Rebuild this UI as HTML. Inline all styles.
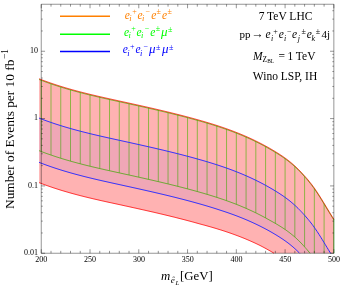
<!DOCTYPE html>
<html><head><meta charset="utf-8"><title>plot</title>
<style>html,body{margin:0;padding:0;background:#fff;}svg{display:block;will-change:transform;opacity:0.999;font-family:"Liberation Serif",serif;}</style></head>
<body><svg width="340" height="286" viewBox="0 0 340 286">
<rect width="340" height="286" fill="#fff"/>
<path d="M41.25 79.91 V151.51 M51.00 83.45 V155.05 M60.76 86.64 V158.24 M70.51 89.54 V161.14 M80.26 92.19 V163.79 M90.02 94.64 V166.24 M99.77 96.93 V168.53 M109.52 99.13 V170.73 M119.28 101.28 V172.88 M129.03 103.42 V175.02 M138.78 105.58 V177.18 M148.54 107.77 V179.37 M158.29 110.02 V181.62 M168.04 112.34 V183.94 M177.80 114.75 V186.35 M187.55 117.28 V188.88 M197.30 119.93 V191.53 M207.06 122.75 V194.35 M216.81 125.77 V197.37 M226.56 129.07 V200.67 M236.32 132.71 V204.31 M246.07 136.76 V208.36 M255.82 141.27 V212.87 M265.58 146.31 V217.91 M275.33 151.95 V223.37 M285.08 158.37 V229.47 M294.84 166.28 V237.05 M304.59 176.26 V246.86 M314.34 188.42 V253.25 M324.10 203.62 V253.25 M333.75 219.32 V253.25" stroke="#00ff00" stroke-width="0.62" fill="none"/>
<polyline points="39.10,150.68 40.10,151.07 41.10,151.45 42.10,151.83 43.10,152.21 44.10,152.58 45.10,152.95 46.10,153.32 47.10,153.68 48.10,154.03 49.10,154.39 50.10,154.74 51.10,155.08 52.10,155.42 53.10,155.76 54.10,156.10 55.10,156.43 56.10,156.76 57.10,157.08 58.10,157.40 59.10,157.72 60.10,158.04 61.10,158.35 62.10,158.66 63.10,158.96 64.10,159.27 65.10,159.57 66.10,159.86 67.10,160.16 68.10,160.45 69.10,160.74 70.10,161.02 71.10,161.31 72.10,161.59 73.10,161.86 74.10,162.14 75.10,162.41 76.10,162.68 77.10,162.95 78.10,163.22 79.10,163.48 80.10,163.74 81.10,164.00 82.10,164.26 83.10,164.52 84.10,164.77 85.10,165.02 86.10,165.27 87.10,165.52 88.10,165.77 89.10,166.01 90.10,166.26 91.10,166.50 92.10,166.74 93.10,166.98 94.10,167.21 95.10,167.45 96.10,167.68 97.10,167.92 98.10,168.15 99.10,168.38 100.10,168.61 101.10,168.84 102.10,169.07 103.10,169.29 104.10,169.52 105.10,169.75 106.10,169.97 107.10,170.19 108.10,170.42 109.10,170.64 110.10,170.86 111.10,171.08 112.10,171.30 113.10,171.52 114.10,171.74 115.10,171.96 116.10,172.18 117.10,172.40 118.10,172.62 119.10,172.84 120.10,173.06 121.10,173.28 122.10,173.50 123.10,173.72 124.10,173.94 125.10,174.16 126.10,174.38 127.10,174.59 128.10,174.81 129.10,175.03 130.10,175.25 131.10,175.47 132.10,175.70 133.10,175.92 134.10,176.14 135.10,176.36 136.10,176.58 137.10,176.80 138.10,177.02 139.10,177.25 140.10,177.47 141.10,177.69 142.10,177.92 143.10,178.14 144.10,178.37 145.10,178.59 146.10,178.82 147.10,179.04 148.10,179.27 149.10,179.50 150.10,179.72 151.10,179.95 152.10,180.18 153.10,180.41 154.10,180.64 155.10,180.87 156.10,181.11 157.10,181.34 158.10,181.57 159.10,181.81 160.10,182.04 161.10,182.28 162.10,182.51 163.10,182.75 164.10,182.99 165.10,183.23 166.10,183.47 167.10,183.71 168.10,183.95 169.10,184.19 170.10,184.44 171.10,184.68 172.10,184.93 173.10,185.18 174.10,185.42 175.10,185.67 176.10,185.92 177.10,186.18 178.10,186.43 179.10,186.68 180.10,186.94 181.10,187.19 182.10,187.45 183.10,187.71 184.10,187.97 185.10,188.23 186.10,188.49 187.10,188.76 188.10,189.02 189.10,189.29 190.10,189.56 191.10,189.83 192.10,190.10 193.10,190.37 194.10,190.65 195.10,190.92 196.10,191.20 197.10,191.48 198.10,191.76 199.10,192.04 200.10,192.32 201.10,192.61 202.10,192.89 203.10,193.18 204.10,193.47 205.10,193.77 206.10,194.06 207.10,194.36 208.10,194.66 209.10,194.96 210.10,195.26 211.10,195.57 212.10,195.88 213.10,196.19 214.10,196.51 215.10,196.82 216.10,197.14 217.10,197.46 218.10,197.79 219.10,198.12 220.10,198.45 221.10,198.79 222.10,199.12 223.10,199.46 224.10,199.81 225.10,200.16 226.10,200.51 227.10,200.86 228.10,201.22 229.10,201.58 230.10,201.95 231.10,202.32 232.10,202.69 233.10,203.07 234.10,203.45 235.10,203.84 236.10,204.23 237.10,204.62 238.10,205.02 239.10,205.42 240.10,205.83 241.10,206.24 242.10,206.66 243.10,207.08 244.10,207.50 245.10,207.94 246.10,208.37 247.10,208.81 248.10,209.26 249.10,209.71 250.10,210.16 251.10,210.62 252.10,211.09 253.10,211.56 254.10,212.04 255.10,212.52 256.10,213.01 257.10,213.50 258.10,214.00 259.10,214.50 260.10,215.01 261.10,215.53 262.10,216.05 263.10,216.58 264.10,217.11 265.10,217.65 266.10,218.20 267.10,218.75 268.10,219.31 269.10,219.88 270.10,220.45 271.10,220.99 272.10,221.55 273.10,222.10 274.10,222.67 275.10,223.24 276.10,223.82 277.10,224.41 278.10,225.00 279.10,225.61 280.10,226.22 281.10,226.85 282.10,227.49 283.10,228.14 284.10,228.80 285.10,229.48 286.10,230.18 287.10,230.89 288.10,231.62 289.10,232.36 290.10,233.13 291.10,233.92 292.10,234.72 293.10,235.55 294.10,236.41 295.10,237.28 296.10,238.18 297.10,239.11 298.10,240.05 299.10,241.02 300.10,242.02 301.10,243.06 302.10,244.12 303.10,245.21 304.10,246.31 305.10,247.44 306.10,248.58 307.10,249.74 308.10,250.93 309.10,252.14 310.00,253.25" stroke="#00ff00" stroke-width="0.8" fill="none"/>
<polyline points="39.10,79.08 40.10,79.47 41.10,79.85 42.10,80.23 43.10,80.61 44.10,80.98 45.10,81.35 46.10,81.72 47.10,82.08 48.10,82.43 49.10,82.79 50.10,83.14 51.10,83.48 52.10,83.82 53.10,84.16 54.10,84.50 55.10,84.83 56.10,85.16 57.10,85.48 58.10,85.80 59.10,86.12 60.10,86.44 61.10,86.75 62.10,87.06 63.10,87.36 64.10,87.67 65.10,87.97 66.10,88.26 67.10,88.56 68.10,88.85 69.10,89.14 70.10,89.42 71.10,89.71 72.10,89.99 73.10,90.26 74.10,90.54 75.10,90.81 76.10,91.08 77.10,91.35 78.10,91.62 79.10,91.88 80.10,92.14 81.10,92.40 82.10,92.66 83.10,92.92 84.10,93.17 85.10,93.42 86.10,93.67 87.10,93.92 88.10,94.17 89.10,94.41 90.10,94.66 91.10,94.90 92.10,95.14 93.10,95.38 94.10,95.61 95.10,95.85 96.10,96.08 97.10,96.32 98.10,96.55 99.10,96.78 100.10,97.01 101.10,97.24 102.10,97.47 103.10,97.69 104.10,97.92 105.10,98.15 106.10,98.37 107.10,98.59 108.10,98.82 109.10,99.04 110.10,99.26 111.10,99.48 112.10,99.70 113.10,99.92 114.10,100.14 115.10,100.36 116.10,100.58 117.10,100.80 118.10,101.02 119.10,101.24 120.10,101.46 121.10,101.68 122.10,101.90 123.10,102.12 124.10,102.34 125.10,102.56 126.10,102.78 127.10,102.99 128.10,103.21 129.10,103.43 130.10,103.65 131.10,103.87 132.10,104.10 133.10,104.32 134.10,104.54 135.10,104.76 136.10,104.98 137.10,105.20 138.10,105.42 139.10,105.65 140.10,105.87 141.10,106.09 142.10,106.32 143.10,106.54 144.10,106.77 145.10,106.99 146.10,107.22 147.10,107.44 148.10,107.67 149.10,107.90 150.10,108.12 151.10,108.35 152.10,108.58 153.10,108.81 154.10,109.04 155.10,109.27 156.10,109.51 157.10,109.74 158.10,109.97 159.10,110.21 160.10,110.44 161.10,110.68 162.10,110.91 163.10,111.15 164.10,111.39 165.10,111.63 166.10,111.87 167.10,112.11 168.10,112.35 169.10,112.59 170.10,112.84 171.10,113.08 172.10,113.33 173.10,113.58 174.10,113.82 175.10,114.07 176.10,114.32 177.10,114.58 178.10,114.83 179.10,115.08 180.10,115.34 181.10,115.59 182.10,115.85 183.10,116.11 184.10,116.37 185.10,116.63 186.10,116.89 187.10,117.16 188.10,117.42 189.10,117.69 190.10,117.96 191.10,118.23 192.10,118.50 193.10,118.77 194.10,119.05 195.10,119.32 196.10,119.60 197.10,119.88 198.10,120.16 199.10,120.44 200.10,120.72 201.10,121.01 202.10,121.29 203.10,121.58 204.10,121.87 205.10,122.17 206.10,122.46 207.10,122.76 208.10,123.06 209.10,123.36 210.10,123.66 211.10,123.97 212.10,124.28 213.10,124.59 214.10,124.91 215.10,125.22 216.10,125.54 217.10,125.86 218.10,126.19 219.10,126.52 220.10,126.85 221.10,127.19 222.10,127.52 223.10,127.86 224.10,128.21 225.10,128.56 226.10,128.91 227.10,129.26 228.10,129.62 229.10,129.98 230.10,130.35 231.10,130.72 232.10,131.09 233.10,131.47 234.10,131.85 235.10,132.24 236.10,132.63 237.10,133.02 238.10,133.42 239.10,133.82 240.10,134.23 241.10,134.64 242.10,135.06 243.10,135.48 244.10,135.90 245.10,136.34 246.10,136.77 247.10,137.21 248.10,137.66 249.10,138.11 250.10,138.56 251.10,139.02 252.10,139.49 253.10,139.96 254.10,140.44 255.10,140.92 256.10,141.41 257.10,141.90 258.10,142.40 259.10,142.90 260.10,143.41 261.10,143.93 262.10,144.45 263.10,144.98 264.10,145.51 265.10,146.05 266.10,146.60 267.10,147.15 268.10,147.71 269.10,148.28 270.10,148.85 271.10,149.43 272.10,150.02 273.10,150.61 274.10,151.21 275.10,151.81 276.10,152.43 277.10,153.05 278.10,153.67 279.10,154.31 280.10,154.96 281.10,155.62 282.10,156.29 283.10,156.97 284.10,157.67 285.10,158.39 286.10,159.11 287.10,159.86 288.10,160.62 289.10,161.40 290.10,162.20 291.10,163.02 292.10,163.86 293.10,164.72 294.10,165.61 295.10,166.52 296.10,167.45 297.10,168.41 298.10,169.39 299.10,170.39 300.10,171.42 301.10,172.46 302.10,173.52 303.10,174.61 304.10,175.71 305.10,176.84 306.10,177.98 307.10,179.14 308.10,180.33 309.10,181.54 310.10,182.78 311.10,184.05 312.10,185.36 313.10,186.70 314.10,188.08 315.10,189.50 316.10,190.97 317.10,192.46 318.10,193.99 319.10,195.55 320.10,197.13 321.10,198.73 322.10,200.35 323.10,201.99 324.10,203.63 325.10,205.28 326.10,206.94 327.10,208.59 328.10,210.24 329.10,211.88 330.10,213.52 331.10,215.13 332.10,216.73 333.10,218.31 333.85,219.47" stroke="#00ff00" stroke-width="0.8" fill="none" transform="translate(0,0.4)"/>
<polygon points="39.10,79.08 40.10,79.47 41.10,79.85 42.10,80.23 43.10,80.61 44.10,80.98 45.10,81.35 46.10,81.72 47.10,82.08 48.10,82.43 49.10,82.79 50.10,83.14 51.10,83.48 52.10,83.82 53.10,84.16 54.10,84.50 55.10,84.83 56.10,85.16 57.10,85.48 58.10,85.80 59.10,86.12 60.10,86.44 61.10,86.75 62.10,87.06 63.10,87.36 64.10,87.67 65.10,87.97 66.10,88.26 67.10,88.56 68.10,88.85 69.10,89.14 70.10,89.42 71.10,89.71 72.10,89.99 73.10,90.26 74.10,90.54 75.10,90.81 76.10,91.08 77.10,91.35 78.10,91.62 79.10,91.88 80.10,92.14 81.10,92.40 82.10,92.66 83.10,92.92 84.10,93.17 85.10,93.42 86.10,93.67 87.10,93.92 88.10,94.17 89.10,94.41 90.10,94.66 91.10,94.90 92.10,95.14 93.10,95.38 94.10,95.61 95.10,95.85 96.10,96.08 97.10,96.32 98.10,96.55 99.10,96.78 100.10,97.01 101.10,97.24 102.10,97.47 103.10,97.69 104.10,97.92 105.10,98.15 106.10,98.37 107.10,98.59 108.10,98.82 109.10,99.04 110.10,99.26 111.10,99.48 112.10,99.70 113.10,99.92 114.10,100.14 115.10,100.36 116.10,100.58 117.10,100.80 118.10,101.02 119.10,101.24 120.10,101.46 121.10,101.68 122.10,101.90 123.10,102.12 124.10,102.34 125.10,102.56 126.10,102.78 127.10,102.99 128.10,103.21 129.10,103.43 130.10,103.65 131.10,103.87 132.10,104.10 133.10,104.32 134.10,104.54 135.10,104.76 136.10,104.98 137.10,105.20 138.10,105.42 139.10,105.65 140.10,105.87 141.10,106.09 142.10,106.32 143.10,106.54 144.10,106.77 145.10,106.99 146.10,107.22 147.10,107.44 148.10,107.67 149.10,107.90 150.10,108.12 151.10,108.35 152.10,108.58 153.10,108.81 154.10,109.04 155.10,109.27 156.10,109.51 157.10,109.74 158.10,109.97 159.10,110.21 160.10,110.44 161.10,110.68 162.10,110.91 163.10,111.15 164.10,111.39 165.10,111.63 166.10,111.87 167.10,112.11 168.10,112.35 169.10,112.59 170.10,112.84 171.10,113.08 172.10,113.33 173.10,113.58 174.10,113.82 175.10,114.07 176.10,114.32 177.10,114.58 178.10,114.83 179.10,115.08 180.10,115.34 181.10,115.59 182.10,115.85 183.10,116.11 184.10,116.37 185.10,116.63 186.10,116.89 187.10,117.16 188.10,117.42 189.10,117.69 190.10,117.96 191.10,118.23 192.10,118.50 193.10,118.77 194.10,119.05 195.10,119.32 196.10,119.60 197.10,119.88 198.10,120.16 199.10,120.44 200.10,120.72 201.10,121.01 202.10,121.29 203.10,121.58 204.10,121.87 205.10,122.17 206.10,122.46 207.10,122.76 208.10,123.06 209.10,123.36 210.10,123.66 211.10,123.97 212.10,124.28 213.10,124.59 214.10,124.91 215.10,125.22 216.10,125.54 217.10,125.86 218.10,126.19 219.10,126.52 220.10,126.85 221.10,127.19 222.10,127.52 223.10,127.86 224.10,128.21 225.10,128.56 226.10,128.91 227.10,129.26 228.10,129.62 229.10,129.98 230.10,130.35 231.10,130.72 232.10,131.09 233.10,131.47 234.10,131.85 235.10,132.24 236.10,132.63 237.10,133.02 238.10,133.42 239.10,133.82 240.10,134.23 241.10,134.64 242.10,135.06 243.10,135.48 244.10,135.90 245.10,136.34 246.10,136.77 247.10,137.21 248.10,137.66 249.10,138.11 250.10,138.56 251.10,139.02 252.10,139.49 253.10,139.96 254.10,140.44 255.10,140.92 256.10,141.41 257.10,141.90 258.10,142.40 259.10,142.90 260.10,143.41 261.10,143.93 262.10,144.45 263.10,144.98 264.10,145.51 265.10,146.05 266.10,146.60 267.10,147.15 268.10,147.71 269.10,148.28 270.10,148.85 271.10,149.43 272.10,150.02 273.10,150.61 274.10,151.21 275.10,151.81 276.10,152.43 277.10,153.05 278.10,153.67 279.10,154.31 280.10,154.96 281.10,155.62 282.10,156.29 283.10,156.97 284.10,157.67 285.10,158.39 286.10,159.11 287.10,159.86 288.10,160.62 289.10,161.40 290.10,162.20 291.10,163.02 292.10,163.86 293.10,164.72 294.10,165.61 295.10,166.52 296.10,167.45 297.10,168.41 298.10,169.39 299.10,170.39 300.10,171.42 301.10,172.46 302.10,173.52 303.10,174.61 304.10,175.71 305.10,176.84 306.10,177.98 307.10,179.14 308.10,180.33 309.10,181.54 310.10,182.78 311.10,184.05 312.10,185.36 313.10,186.70 314.10,188.08 315.10,189.50 316.10,190.97 317.10,192.46 318.10,193.99 319.10,195.55 320.10,197.13 321.10,198.73 322.10,200.35 323.10,201.99 324.10,203.63 325.10,205.28 326.10,206.94 327.10,208.59 328.10,210.24 329.10,211.88 330.10,213.52 331.10,215.13 332.10,216.73 333.10,218.31 333.85,219.47 333.85,253.25 274.01,253.25 273.10,252.71 272.10,252.12 271.10,251.53 270.10,250.95 269.10,250.38 268.10,249.81 267.10,249.25 266.10,248.70 265.10,248.15 264.10,247.61 263.10,247.08 262.10,246.55 261.10,246.03 260.10,245.51 259.10,245.02 258.10,244.54 257.10,244.06 256.10,243.58 255.10,243.12 254.10,242.65 253.10,242.20 252.10,241.75 251.10,241.30 250.10,240.86 249.10,240.42 248.10,239.99 247.10,239.57 246.10,239.15 245.10,238.73 244.10,238.32 243.10,237.92 242.10,237.52 241.10,237.12 240.10,236.73 239.10,236.34 238.10,235.96 237.10,235.58 236.10,235.21 235.10,234.84 234.10,234.47 233.10,234.11 232.10,233.75 231.10,233.40 230.10,233.05 229.10,232.70 228.10,232.36 227.10,232.02 226.10,231.69 225.10,231.35 224.10,231.03 223.10,230.70 222.10,230.38 221.10,230.06 220.10,229.75 219.10,229.44 218.10,229.13 217.10,228.82 216.10,228.52 215.10,228.22 214.10,227.92 213.10,227.63 212.10,227.34 211.10,227.05 210.10,226.76 209.10,226.48 208.10,226.20 207.10,225.92 206.10,225.64 205.10,225.36 204.10,225.09 203.10,224.82 202.10,224.55 201.10,224.29 200.10,224.02 199.10,223.74 198.10,223.46 197.10,223.18 196.10,222.90 195.10,222.62 194.10,222.35 193.10,222.07 192.10,221.80 191.10,221.53 190.10,221.26 189.10,220.99 188.10,220.72 187.10,220.46 186.10,220.19 185.10,219.93 184.10,219.67 183.10,219.41 182.10,219.15 181.10,218.89 180.10,218.64 179.10,218.38 178.10,218.13 177.10,217.88 176.10,217.62 175.10,217.37 174.10,217.12 173.10,216.88 172.10,216.63 171.10,216.38 170.10,216.14 169.10,215.89 168.10,215.65 167.10,215.41 166.10,215.17 165.10,214.93 164.10,214.69 163.10,214.45 162.10,214.21 161.10,213.98 160.10,213.74 159.10,213.51 158.10,213.27 157.10,213.04 156.10,212.81 155.10,212.57 154.10,212.34 153.10,212.11 152.10,211.88 151.10,211.65 150.10,211.42 149.10,211.20 148.10,210.97 147.10,210.74 146.10,210.52 145.10,210.29 144.10,210.07 143.10,209.84 142.10,209.62 141.10,209.39 140.10,209.17 139.10,208.95 138.10,208.72 137.10,208.50 136.10,208.28 135.10,208.06 134.10,207.84 133.10,207.62 132.10,207.40 131.10,207.17 130.10,206.95 129.10,206.73 128.10,206.51 127.10,206.29 126.10,206.08 125.10,205.86 124.10,205.64 123.10,205.42 122.10,205.20 121.10,204.98 120.10,204.76 119.10,204.54 118.10,204.33 117.10,204.11 116.10,203.90 115.10,203.68 114.10,203.46 113.10,203.25 112.10,203.03 111.10,202.81 110.10,202.59 109.10,202.38 108.10,202.16 107.10,201.94 106.10,201.72 105.10,201.50 104.10,201.27 103.10,201.05 102.10,200.83 101.10,200.60 100.10,200.38 99.10,200.15 98.10,199.92 97.10,199.69 96.10,199.46 95.10,199.23 94.10,199.00 93.10,198.77 92.10,198.53 91.10,198.29 90.10,198.06 89.10,197.82 88.10,197.57 87.10,197.33 86.10,197.09 85.10,196.84 84.10,196.59 83.10,196.34 82.10,196.09 81.10,195.83 80.10,195.58 79.10,195.32 78.10,195.06 77.10,194.80 76.10,194.53 75.10,194.26 74.10,193.99 73.10,193.72 72.10,193.45 71.10,193.17 70.10,192.89 69.10,192.61 68.10,192.32 67.10,192.03 66.10,191.74 65.10,191.45 64.10,191.15 63.10,190.85 62.10,190.55 61.10,190.25 60.10,189.94 59.10,189.63 58.10,189.31 57.10,188.99 56.10,188.67 55.10,188.35 54.10,188.02 53.10,187.69 52.10,187.35 51.10,187.01 50.10,186.67 49.10,186.32 48.10,185.97 47.10,185.62 46.10,185.26 45.10,184.90 44.10,184.53 43.10,184.17 42.10,183.79 41.10,183.41 40.10,183.03 39.10,182.65" fill="#ff0000" fill-opacity="0.3"/>
<polygon points="39.10,118.08 40.10,118.47 41.10,118.85 42.10,119.23 43.10,119.61 44.10,119.98 45.10,120.35 46.10,120.72 47.10,121.08 48.10,121.43 49.10,121.79 50.10,122.14 51.10,122.48 52.10,122.82 53.10,123.16 54.10,123.50 55.10,123.83 56.10,124.16 57.10,124.48 58.10,124.80 59.10,125.12 60.10,125.44 61.10,125.75 62.10,126.06 63.10,126.36 64.10,126.67 65.10,126.97 66.10,127.26 67.10,127.56 68.10,127.85 69.10,128.14 70.10,128.42 71.10,128.71 72.10,128.99 73.10,129.26 74.10,129.54 75.10,129.81 76.10,130.08 77.10,130.35 78.10,130.62 79.10,130.88 80.10,131.14 81.10,131.40 82.10,131.66 83.10,131.92 84.10,132.17 85.10,132.42 86.10,132.67 87.10,132.92 88.10,133.17 89.10,133.41 90.10,133.66 91.10,133.90 92.10,134.14 93.10,134.38 94.10,134.61 95.10,134.85 96.10,135.08 97.10,135.32 98.10,135.55 99.10,135.78 100.10,136.01 101.10,136.24 102.10,136.47 103.10,136.69 104.10,136.92 105.10,137.15 106.10,137.37 107.10,137.59 108.10,137.82 109.10,138.04 110.10,138.26 111.10,138.48 112.10,138.70 113.10,138.92 114.10,139.14 115.10,139.36 116.10,139.58 117.10,139.80 118.10,140.02 119.10,140.24 120.10,140.46 121.10,140.68 122.10,140.90 123.10,141.12 124.10,141.34 125.10,141.56 126.10,141.78 127.10,141.99 128.10,142.21 129.10,142.43 130.10,142.65 131.10,142.87 132.10,143.10 133.10,143.32 134.10,143.54 135.10,143.76 136.10,143.98 137.10,144.20 138.10,144.42 139.10,144.65 140.10,144.87 141.10,145.09 142.10,145.32 143.10,145.54 144.10,145.77 145.10,145.99 146.10,146.22 147.10,146.44 148.10,146.67 149.10,146.90 150.10,147.12 151.10,147.35 152.10,147.58 153.10,147.81 154.10,148.04 155.10,148.27 156.10,148.51 157.10,148.74 158.10,148.97 159.10,149.21 160.10,149.44 161.10,149.68 162.10,149.91 163.10,150.15 164.10,150.39 165.10,150.63 166.10,150.87 167.10,151.11 168.10,151.35 169.10,151.59 170.10,151.84 171.10,152.08 172.10,152.33 173.10,152.58 174.10,152.82 175.10,153.07 176.10,153.32 177.10,153.58 178.10,153.83 179.10,154.08 180.10,154.34 181.10,154.59 182.10,154.85 183.10,155.11 184.10,155.37 185.10,155.63 186.10,155.89 187.10,156.16 188.10,156.42 189.10,156.69 190.10,156.96 191.10,157.23 192.10,157.50 193.10,157.77 194.10,158.05 195.10,158.32 196.10,158.60 197.10,158.88 198.10,159.16 199.10,159.44 200.10,159.72 201.10,160.01 202.10,160.29 203.10,160.58 204.10,160.87 205.10,161.17 206.10,161.46 207.10,161.76 208.10,162.06 209.10,162.36 210.10,162.66 211.10,162.97 212.10,163.28 213.10,163.59 214.10,163.91 215.10,164.22 216.10,164.54 217.10,164.86 218.10,165.19 219.10,165.52 220.10,165.85 221.10,166.19 222.10,166.52 223.10,166.86 224.10,167.21 225.10,167.56 226.10,167.91 227.10,168.26 228.10,168.62 229.10,168.98 230.10,169.35 231.10,169.72 232.10,170.09 233.10,170.47 234.10,170.85 235.10,171.24 236.10,171.63 237.10,172.02 238.10,172.42 239.10,172.82 240.10,173.23 241.10,173.64 242.10,174.06 243.10,174.48 244.10,174.90 245.10,175.34 246.10,175.77 247.10,176.21 248.10,176.66 249.10,177.11 250.10,177.56 251.10,178.02 252.10,178.49 253.10,178.96 254.10,179.44 255.10,179.92 256.10,180.41 257.10,180.90 258.10,181.40 259.10,181.90 260.10,182.41 261.10,182.93 262.10,183.45 263.10,183.98 264.10,184.51 265.10,185.05 266.10,185.60 267.10,186.15 268.10,186.71 269.10,187.28 270.10,187.85 271.10,188.43 272.10,189.02 273.10,189.61 274.10,190.21 275.10,190.81 276.10,191.43 277.10,192.05 278.10,192.67 279.10,193.31 280.10,193.96 281.10,194.62 282.10,195.29 283.10,195.97 284.10,196.67 285.10,197.39 286.10,198.11 287.10,198.86 288.10,199.62 289.10,200.40 290.10,201.20 291.10,202.02 292.10,202.86 293.10,203.72 294.10,204.61 295.10,205.52 296.10,206.45 297.10,207.41 298.10,208.39 299.10,209.39 300.10,210.42 301.10,211.46 302.10,212.52 303.10,213.61 304.10,214.71 305.10,215.84 306.10,216.98 307.10,218.14 308.10,219.33 309.10,220.54 310.10,221.78 311.10,223.05 312.10,224.36 313.10,225.70 314.10,227.08 315.10,228.50 316.10,229.97 317.10,231.46 318.10,232.99 319.10,234.55 320.10,236.13 321.10,237.73 322.10,239.35 323.10,240.99 324.10,242.63 325.10,244.28 326.10,245.94 327.10,247.59 328.10,249.24 329.10,250.88 330.10,252.52 330.55,253.25 299.64,253.25 299.10,252.70 298.10,251.71 297.10,250.74 296.10,249.79 295.10,248.87 294.10,247.97 293.10,247.09 292.10,246.24 291.10,245.41 290.10,244.60 289.10,243.81 288.10,243.04 287.10,242.29 286.10,241.55 285.10,240.83 284.10,240.13 283.10,239.44 282.10,238.77 281.10,238.11 280.10,237.46 279.10,236.82 278.10,236.19 277.10,235.57 276.10,234.96 275.10,234.36 274.10,233.77 273.10,233.18 272.10,232.59 271.10,232.02 270.10,231.45 269.10,230.89 268.10,230.34 267.10,229.79 266.10,229.26 265.10,228.72 264.10,228.20 263.10,227.68 262.10,227.16 261.10,226.65 260.10,226.15 259.10,225.65 258.10,225.16 257.10,224.68 256.10,224.20 255.10,223.73 254.10,223.26 253.10,222.80 252.10,222.34 251.10,221.89 250.10,221.44 249.10,221.00 248.10,220.56 247.10,220.13 246.10,219.71 245.10,219.28 244.10,218.87 243.10,218.46 242.10,218.05 241.10,217.65 240.10,217.25 239.10,216.86 238.10,216.47 237.10,216.08 236.10,215.70 235.10,215.33 234.10,214.95 233.10,214.59 232.10,214.22 231.10,213.86 230.10,213.51 229.10,213.16 228.10,212.81 227.10,212.46 226.10,212.12 225.10,211.79 224.10,211.45 223.10,211.12 222.10,210.79 221.10,210.47 220.10,210.15 219.10,209.82 218.10,209.49 217.10,209.16 216.10,208.84 215.10,208.52 214.10,208.21 213.10,207.89 212.10,207.58 211.10,207.27 210.10,206.96 209.10,206.66 208.10,206.36 207.10,206.06 206.10,205.76 205.10,205.47 204.10,205.17 203.10,204.88 202.10,204.59 201.10,204.31 200.10,204.02 199.10,203.74 198.10,203.46 197.10,203.18 196.10,202.90 195.10,202.62 194.10,202.35 193.10,202.07 192.10,201.80 191.10,201.53 190.10,201.26 189.10,200.99 188.10,200.72 187.10,200.46 186.10,200.19 185.10,199.93 184.10,199.67 183.10,199.41 182.10,199.15 181.10,198.89 180.10,198.64 179.10,198.38 178.10,198.13 177.10,197.88 176.10,197.62 175.10,197.37 174.10,197.12 173.10,196.88 172.10,196.63 171.10,196.38 170.10,196.14 169.10,195.89 168.10,195.65 167.10,195.41 166.10,195.17 165.10,194.93 164.10,194.69 163.10,194.45 162.10,194.21 161.10,193.98 160.10,193.74 159.10,193.51 158.10,193.27 157.10,193.04 156.10,192.81 155.10,192.57 154.10,192.34 153.10,192.11 152.10,191.88 151.10,191.65 150.10,191.42 149.10,191.20 148.10,190.97 147.10,190.74 146.10,190.52 145.10,190.29 144.10,190.07 143.10,189.84 142.10,189.62 141.10,189.39 140.10,189.17 139.10,188.95 138.10,188.72 137.10,188.50 136.10,188.28 135.10,188.06 134.10,187.84 133.10,187.62 132.10,187.40 131.10,187.17 130.10,186.95 129.10,186.73 128.10,186.51 127.10,186.29 126.10,186.08 125.10,185.86 124.10,185.64 123.10,185.42 122.10,185.20 121.10,184.98 120.10,184.76 119.10,184.54 118.10,184.32 117.10,184.10 116.10,183.88 115.10,183.66 114.10,183.44 113.10,183.22 112.10,183.00 111.10,182.78 110.10,182.56 109.10,182.34 108.10,182.12 107.10,181.89 106.10,181.67 105.10,181.45 104.10,181.22 103.10,180.99 102.10,180.77 101.10,180.54 100.10,180.31 99.10,180.08 98.10,179.85 97.10,179.62 96.10,179.38 95.10,179.15 94.10,178.91 93.10,178.68 92.10,178.44 91.10,178.20 90.10,177.96 89.10,177.71 88.10,177.47 87.10,177.22 86.10,176.97 85.10,176.72 84.10,176.47 83.10,176.22 82.10,175.96 81.10,175.70 80.10,175.44 79.10,175.18 78.10,174.92 77.10,174.65 76.10,174.38 75.10,174.11 74.10,173.84 73.10,173.56 72.10,173.29 71.10,173.01 70.10,172.72 69.10,172.44 68.10,172.15 67.10,171.86 66.10,171.56 65.10,171.27 64.10,170.97 63.10,170.66 62.10,170.36 61.10,170.05 60.10,169.74 59.10,169.42 58.10,169.10 57.10,168.78 56.10,168.46 55.10,168.13 54.10,167.80 53.10,167.46 52.10,167.12 51.10,166.78 50.10,166.44 49.10,166.09 48.10,165.73 47.10,165.38 46.10,165.02 45.10,164.65 44.10,164.28 43.10,163.91 42.10,163.53 41.10,163.15 40.10,162.77 39.10,162.38" fill="#0000ff" fill-opacity="0.06"/>
<polyline points="39.10,182.65 40.10,183.03 41.10,183.41 42.10,183.79 43.10,184.17 44.10,184.53 45.10,184.90 46.10,185.26 47.10,185.62 48.10,185.97 49.10,186.32 50.10,186.67 51.10,187.01 52.10,187.35 53.10,187.69 54.10,188.02 55.10,188.35 56.10,188.67 57.10,188.99 58.10,189.31 59.10,189.63 60.10,189.94 61.10,190.25 62.10,190.55 63.10,190.85 64.10,191.15 65.10,191.45 66.10,191.74 67.10,192.03 68.10,192.32 69.10,192.61 70.10,192.89 71.10,193.17 72.10,193.45 73.10,193.72 74.10,193.99 75.10,194.26 76.10,194.53 77.10,194.80 78.10,195.06 79.10,195.32 80.10,195.58 81.10,195.83 82.10,196.09 83.10,196.34 84.10,196.59 85.10,196.84 86.10,197.09 87.10,197.33 88.10,197.57 89.10,197.82 90.10,198.06 91.10,198.29 92.10,198.53 93.10,198.77 94.10,199.00 95.10,199.23 96.10,199.46 97.10,199.69 98.10,199.92 99.10,200.15 100.10,200.38 101.10,200.60 102.10,200.83 103.10,201.05 104.10,201.27 105.10,201.50 106.10,201.72 107.10,201.94 108.10,202.16 109.10,202.38 110.10,202.59 111.10,202.81 112.10,203.03 113.10,203.25 114.10,203.46 115.10,203.68 116.10,203.90 117.10,204.11 118.10,204.33 119.10,204.54 120.10,204.76 121.10,204.98 122.10,205.20 123.10,205.42 124.10,205.64 125.10,205.86 126.10,206.08 127.10,206.29 128.10,206.51 129.10,206.73 130.10,206.95 131.10,207.17 132.10,207.40 133.10,207.62 134.10,207.84 135.10,208.06 136.10,208.28 137.10,208.50 138.10,208.72 139.10,208.95 140.10,209.17 141.10,209.39 142.10,209.62 143.10,209.84 144.10,210.07 145.10,210.29 146.10,210.52 147.10,210.74 148.10,210.97 149.10,211.20 150.10,211.42 151.10,211.65 152.10,211.88 153.10,212.11 154.10,212.34 155.10,212.57 156.10,212.81 157.10,213.04 158.10,213.27 159.10,213.51 160.10,213.74 161.10,213.98 162.10,214.21 163.10,214.45 164.10,214.69 165.10,214.93 166.10,215.17 167.10,215.41 168.10,215.65 169.10,215.89 170.10,216.14 171.10,216.38 172.10,216.63 173.10,216.88 174.10,217.12 175.10,217.37 176.10,217.62 177.10,217.88 178.10,218.13 179.10,218.38 180.10,218.64 181.10,218.89 182.10,219.15 183.10,219.41 184.10,219.67 185.10,219.93 186.10,220.19 187.10,220.46 188.10,220.72 189.10,220.99 190.10,221.26 191.10,221.53 192.10,221.80 193.10,222.07 194.10,222.35 195.10,222.62 196.10,222.90 197.10,223.18 198.10,223.46 199.10,223.74 200.10,224.02 201.10,224.29 202.10,224.55 203.10,224.82 204.10,225.09 205.10,225.36 206.10,225.64 207.10,225.92 208.10,226.20 209.10,226.48 210.10,226.76 211.10,227.05 212.10,227.34 213.10,227.63 214.10,227.92 215.10,228.22 216.10,228.52 217.10,228.82 218.10,229.13 219.10,229.44 220.10,229.75 221.10,230.06 222.10,230.38 223.10,230.70 224.10,231.03 225.10,231.35 226.10,231.69 227.10,232.02 228.10,232.36 229.10,232.70 230.10,233.05 231.10,233.40 232.10,233.75 233.10,234.11 234.10,234.47 235.10,234.84 236.10,235.21 237.10,235.58 238.10,235.96 239.10,236.34 240.10,236.73 241.10,237.12 242.10,237.52 243.10,237.92 244.10,238.32 245.10,238.73 246.10,239.15 247.10,239.57 248.10,239.99 249.10,240.42 250.10,240.86 251.10,241.30 252.10,241.75 253.10,242.20 254.10,242.65 255.10,243.12 256.10,243.58 257.10,244.06 258.10,244.54 259.10,245.02 260.10,245.51 261.10,246.03 262.10,246.55 263.10,247.08 264.10,247.61 265.10,248.15 266.10,248.70 267.10,249.25 268.10,249.81 269.10,250.38 270.10,250.95 271.10,251.53 272.10,252.12 273.10,252.71 274.01,253.25" stroke="#ff0000" stroke-width="0.8" fill="none"/>
<polyline points="39.10,79.08 40.10,79.47 41.10,79.85 42.10,80.23 43.10,80.61 44.10,80.98 45.10,81.35 46.10,81.72 47.10,82.08 48.10,82.43 49.10,82.79 50.10,83.14 51.10,83.48 52.10,83.82 53.10,84.16 54.10,84.50 55.10,84.83 56.10,85.16 57.10,85.48 58.10,85.80 59.10,86.12 60.10,86.44 61.10,86.75 62.10,87.06 63.10,87.36 64.10,87.67 65.10,87.97 66.10,88.26 67.10,88.56 68.10,88.85 69.10,89.14 70.10,89.42 71.10,89.71 72.10,89.99 73.10,90.26 74.10,90.54 75.10,90.81 76.10,91.08 77.10,91.35 78.10,91.62 79.10,91.88 80.10,92.14 81.10,92.40 82.10,92.66 83.10,92.92 84.10,93.17 85.10,93.42 86.10,93.67 87.10,93.92 88.10,94.17 89.10,94.41 90.10,94.66 91.10,94.90 92.10,95.14 93.10,95.38 94.10,95.61 95.10,95.85 96.10,96.08 97.10,96.32 98.10,96.55 99.10,96.78 100.10,97.01 101.10,97.24 102.10,97.47 103.10,97.69 104.10,97.92 105.10,98.15 106.10,98.37 107.10,98.59 108.10,98.82 109.10,99.04 110.10,99.26 111.10,99.48 112.10,99.70 113.10,99.92 114.10,100.14 115.10,100.36 116.10,100.58 117.10,100.80 118.10,101.02 119.10,101.24 120.10,101.46 121.10,101.68 122.10,101.90 123.10,102.12 124.10,102.34 125.10,102.56 126.10,102.78 127.10,102.99 128.10,103.21 129.10,103.43 130.10,103.65 131.10,103.87 132.10,104.10 133.10,104.32 134.10,104.54 135.10,104.76 136.10,104.98 137.10,105.20 138.10,105.42 139.10,105.65 140.10,105.87 141.10,106.09 142.10,106.32 143.10,106.54 144.10,106.77 145.10,106.99 146.10,107.22 147.10,107.44 148.10,107.67 149.10,107.90 150.10,108.12 151.10,108.35 152.10,108.58 153.10,108.81 154.10,109.04 155.10,109.27 156.10,109.51 157.10,109.74 158.10,109.97 159.10,110.21 160.10,110.44 161.10,110.68 162.10,110.91 163.10,111.15 164.10,111.39 165.10,111.63 166.10,111.87 167.10,112.11 168.10,112.35 169.10,112.59 170.10,112.84 171.10,113.08 172.10,113.33 173.10,113.58 174.10,113.82 175.10,114.07 176.10,114.32 177.10,114.58 178.10,114.83 179.10,115.08 180.10,115.34 181.10,115.59 182.10,115.85 183.10,116.11 184.10,116.37 185.10,116.63 186.10,116.89 187.10,117.16 188.10,117.42 189.10,117.69 190.10,117.96 191.10,118.23 192.10,118.50 193.10,118.77 194.10,119.05 195.10,119.32 196.10,119.60 197.10,119.88 198.10,120.16 199.10,120.44 200.10,120.72 201.10,121.01 202.10,121.29 203.10,121.58 204.10,121.87 205.10,122.17 206.10,122.46 207.10,122.76 208.10,123.06 209.10,123.36 210.10,123.66 211.10,123.97 212.10,124.28 213.10,124.59 214.10,124.91 215.10,125.22 216.10,125.54 217.10,125.86 218.10,126.19 219.10,126.52 220.10,126.85 221.10,127.19 222.10,127.52 223.10,127.86 224.10,128.21 225.10,128.56 226.10,128.91 227.10,129.26 228.10,129.62 229.10,129.98 230.10,130.35 231.10,130.72 232.10,131.09 233.10,131.47 234.10,131.85 235.10,132.24 236.10,132.63 237.10,133.02 238.10,133.42 239.10,133.82 240.10,134.23 241.10,134.64 242.10,135.06 243.10,135.48 244.10,135.90 245.10,136.34 246.10,136.77 247.10,137.21 248.10,137.66 249.10,138.11 250.10,138.56 251.10,139.02 252.10,139.49 253.10,139.96 254.10,140.44 255.10,140.92 256.10,141.41 257.10,141.90 258.10,142.40 259.10,142.90 260.10,143.41 261.10,143.93 262.10,144.45 263.10,144.98 264.10,145.51 265.10,146.05 266.10,146.60 267.10,147.15 268.10,147.71 269.10,148.28 270.10,148.85 271.10,149.43 272.10,150.02 273.10,150.61 274.10,151.21 275.10,151.81 276.10,152.43 277.10,153.05 278.10,153.67 279.10,154.31 280.10,154.96 281.10,155.62 282.10,156.29 283.10,156.97 284.10,157.67 285.10,158.39 286.10,159.11 287.10,159.86 288.10,160.62 289.10,161.40 290.10,162.20 291.10,163.02 292.10,163.86 293.10,164.72 294.10,165.61 295.10,166.52 296.10,167.45 297.10,168.41 298.10,169.39 299.10,170.39 300.10,171.42 301.10,172.46 302.10,173.52 303.10,174.61 304.10,175.71 305.10,176.84 306.10,177.98 307.10,179.14 308.10,180.33 309.10,181.54 310.10,182.78 311.10,184.05 312.10,185.36 313.10,186.70 314.10,188.08 315.10,189.50 316.10,190.97 317.10,192.46 318.10,193.99 319.10,195.55 320.10,197.13 321.10,198.73 322.10,200.35 323.10,201.99 324.10,203.63 325.10,205.28 326.10,206.94 327.10,208.59 328.10,210.24 329.10,211.88 330.10,213.52 331.10,215.13 332.10,216.73 333.10,218.31 333.85,219.47" stroke="#ff1208" stroke-width="0.8" fill="none" transform="translate(0,-0.3)"/>
<polyline points="39.10,118.08 40.10,118.47 41.10,118.85 42.10,119.23 43.10,119.61 44.10,119.98 45.10,120.35 46.10,120.72 47.10,121.08 48.10,121.43 49.10,121.79 50.10,122.14 51.10,122.48 52.10,122.82 53.10,123.16 54.10,123.50 55.10,123.83 56.10,124.16 57.10,124.48 58.10,124.80 59.10,125.12 60.10,125.44 61.10,125.75 62.10,126.06 63.10,126.36 64.10,126.67 65.10,126.97 66.10,127.26 67.10,127.56 68.10,127.85 69.10,128.14 70.10,128.42 71.10,128.71 72.10,128.99 73.10,129.26 74.10,129.54 75.10,129.81 76.10,130.08 77.10,130.35 78.10,130.62 79.10,130.88 80.10,131.14 81.10,131.40 82.10,131.66 83.10,131.92 84.10,132.17 85.10,132.42 86.10,132.67 87.10,132.92 88.10,133.17 89.10,133.41 90.10,133.66 91.10,133.90 92.10,134.14 93.10,134.38 94.10,134.61 95.10,134.85 96.10,135.08 97.10,135.32 98.10,135.55 99.10,135.78 100.10,136.01 101.10,136.24 102.10,136.47 103.10,136.69 104.10,136.92 105.10,137.15 106.10,137.37 107.10,137.59 108.10,137.82 109.10,138.04 110.10,138.26 111.10,138.48 112.10,138.70 113.10,138.92 114.10,139.14 115.10,139.36 116.10,139.58 117.10,139.80 118.10,140.02 119.10,140.24 120.10,140.46 121.10,140.68 122.10,140.90 123.10,141.12 124.10,141.34 125.10,141.56 126.10,141.78 127.10,141.99 128.10,142.21 129.10,142.43 130.10,142.65 131.10,142.87 132.10,143.10 133.10,143.32 134.10,143.54 135.10,143.76 136.10,143.98 137.10,144.20 138.10,144.42 139.10,144.65 140.10,144.87 141.10,145.09 142.10,145.32 143.10,145.54 144.10,145.77 145.10,145.99 146.10,146.22 147.10,146.44 148.10,146.67 149.10,146.90 150.10,147.12 151.10,147.35 152.10,147.58 153.10,147.81 154.10,148.04 155.10,148.27 156.10,148.51 157.10,148.74 158.10,148.97 159.10,149.21 160.10,149.44 161.10,149.68 162.10,149.91 163.10,150.15 164.10,150.39 165.10,150.63 166.10,150.87 167.10,151.11 168.10,151.35 169.10,151.59 170.10,151.84 171.10,152.08 172.10,152.33 173.10,152.58 174.10,152.82 175.10,153.07 176.10,153.32 177.10,153.58 178.10,153.83 179.10,154.08 180.10,154.34 181.10,154.59 182.10,154.85 183.10,155.11 184.10,155.37 185.10,155.63 186.10,155.89 187.10,156.16 188.10,156.42 189.10,156.69 190.10,156.96 191.10,157.23 192.10,157.50 193.10,157.77 194.10,158.05 195.10,158.32 196.10,158.60 197.10,158.88 198.10,159.16 199.10,159.44 200.10,159.72 201.10,160.01 202.10,160.29 203.10,160.58 204.10,160.87 205.10,161.17 206.10,161.46 207.10,161.76 208.10,162.06 209.10,162.36 210.10,162.66 211.10,162.97 212.10,163.28 213.10,163.59 214.10,163.91 215.10,164.22 216.10,164.54 217.10,164.86 218.10,165.19 219.10,165.52 220.10,165.85 221.10,166.19 222.10,166.52 223.10,166.86 224.10,167.21 225.10,167.56 226.10,167.91 227.10,168.26 228.10,168.62 229.10,168.98 230.10,169.35 231.10,169.72 232.10,170.09 233.10,170.47 234.10,170.85 235.10,171.24 236.10,171.63 237.10,172.02 238.10,172.42 239.10,172.82 240.10,173.23 241.10,173.64 242.10,174.06 243.10,174.48 244.10,174.90 245.10,175.34 246.10,175.77 247.10,176.21 248.10,176.66 249.10,177.11 250.10,177.56 251.10,178.02 252.10,178.49 253.10,178.96 254.10,179.44 255.10,179.92 256.10,180.41 257.10,180.90 258.10,181.40 259.10,181.90 260.10,182.41 261.10,182.93 262.10,183.45 263.10,183.98 264.10,184.51 265.10,185.05 266.10,185.60 267.10,186.15 268.10,186.71 269.10,187.28 270.10,187.85 271.10,188.43 272.10,189.02 273.10,189.61 274.10,190.21 275.10,190.81 276.10,191.43 277.10,192.05 278.10,192.67 279.10,193.31 280.10,193.96 281.10,194.62 282.10,195.29 283.10,195.97 284.10,196.67 285.10,197.39 286.10,198.11 287.10,198.86 288.10,199.62 289.10,200.40 290.10,201.20 291.10,202.02 292.10,202.86 293.10,203.72 294.10,204.61 295.10,205.52 296.10,206.45 297.10,207.41 298.10,208.39 299.10,209.39 300.10,210.42 301.10,211.46 302.10,212.52 303.10,213.61 304.10,214.71 305.10,215.84 306.10,216.98 307.10,218.14 308.10,219.33 309.10,220.54 310.10,221.78 311.10,223.05 312.10,224.36 313.10,225.70 314.10,227.08 315.10,228.50 316.10,229.97 317.10,231.46 318.10,232.99 319.10,234.55 320.10,236.13 321.10,237.73 322.10,239.35 323.10,240.99 324.10,242.63 325.10,244.28 326.10,245.94 327.10,247.59 328.10,249.24 329.10,250.88 330.10,252.52 330.55,253.25" stroke="#2a2aff" stroke-width="1.0" fill="none"/>
<polyline points="39.10,162.38 40.10,162.77 41.10,163.15 42.10,163.53 43.10,163.91 44.10,164.28 45.10,164.65 46.10,165.02 47.10,165.38 48.10,165.73 49.10,166.09 50.10,166.44 51.10,166.78 52.10,167.12 53.10,167.46 54.10,167.80 55.10,168.13 56.10,168.46 57.10,168.78 58.10,169.10 59.10,169.42 60.10,169.74 61.10,170.05 62.10,170.36 63.10,170.66 64.10,170.97 65.10,171.27 66.10,171.56 67.10,171.86 68.10,172.15 69.10,172.44 70.10,172.72 71.10,173.01 72.10,173.29 73.10,173.56 74.10,173.84 75.10,174.11 76.10,174.38 77.10,174.65 78.10,174.92 79.10,175.18 80.10,175.44 81.10,175.70 82.10,175.96 83.10,176.22 84.10,176.47 85.10,176.72 86.10,176.97 87.10,177.22 88.10,177.47 89.10,177.71 90.10,177.96 91.10,178.20 92.10,178.44 93.10,178.68 94.10,178.91 95.10,179.15 96.10,179.38 97.10,179.62 98.10,179.85 99.10,180.08 100.10,180.31 101.10,180.54 102.10,180.77 103.10,180.99 104.10,181.22 105.10,181.45 106.10,181.67 107.10,181.89 108.10,182.12 109.10,182.34 110.10,182.56 111.10,182.78 112.10,183.00 113.10,183.22 114.10,183.44 115.10,183.66 116.10,183.88 117.10,184.10 118.10,184.32 119.10,184.54 120.10,184.76 121.10,184.98 122.10,185.20 123.10,185.42 124.10,185.64 125.10,185.86 126.10,186.08 127.10,186.29 128.10,186.51 129.10,186.73 130.10,186.95 131.10,187.17 132.10,187.40 133.10,187.62 134.10,187.84 135.10,188.06 136.10,188.28 137.10,188.50 138.10,188.72 139.10,188.95 140.10,189.17 141.10,189.39 142.10,189.62 143.10,189.84 144.10,190.07 145.10,190.29 146.10,190.52 147.10,190.74 148.10,190.97 149.10,191.20 150.10,191.42 151.10,191.65 152.10,191.88 153.10,192.11 154.10,192.34 155.10,192.57 156.10,192.81 157.10,193.04 158.10,193.27 159.10,193.51 160.10,193.74 161.10,193.98 162.10,194.21 163.10,194.45 164.10,194.69 165.10,194.93 166.10,195.17 167.10,195.41 168.10,195.65 169.10,195.89 170.10,196.14 171.10,196.38 172.10,196.63 173.10,196.88 174.10,197.12 175.10,197.37 176.10,197.62 177.10,197.88 178.10,198.13 179.10,198.38 180.10,198.64 181.10,198.89 182.10,199.15 183.10,199.41 184.10,199.67 185.10,199.93 186.10,200.19 187.10,200.46 188.10,200.72 189.10,200.99 190.10,201.26 191.10,201.53 192.10,201.80 193.10,202.07 194.10,202.35 195.10,202.62 196.10,202.90 197.10,203.18 198.10,203.46 199.10,203.74 200.10,204.02 201.10,204.31 202.10,204.59 203.10,204.88 204.10,205.17 205.10,205.47 206.10,205.76 207.10,206.06 208.10,206.36 209.10,206.66 210.10,206.96 211.10,207.27 212.10,207.58 213.10,207.89 214.10,208.21 215.10,208.52 216.10,208.84 217.10,209.16 218.10,209.49 219.10,209.82 220.10,210.15 221.10,210.47 222.10,210.79 223.10,211.12 224.10,211.45 225.10,211.79 226.10,212.12 227.10,212.46 228.10,212.81 229.10,213.16 230.10,213.51 231.10,213.86 232.10,214.22 233.10,214.59 234.10,214.95 235.10,215.33 236.10,215.70 237.10,216.08 238.10,216.47 239.10,216.86 240.10,217.25 241.10,217.65 242.10,218.05 243.10,218.46 244.10,218.87 245.10,219.28 246.10,219.71 247.10,220.13 248.10,220.56 249.10,221.00 250.10,221.44 251.10,221.89 252.10,222.34 253.10,222.80 254.10,223.26 255.10,223.73 256.10,224.20 257.10,224.68 258.10,225.16 259.10,225.65 260.10,226.15 261.10,226.65 262.10,227.16 263.10,227.68 264.10,228.20 265.10,228.72 266.10,229.26 267.10,229.79 268.10,230.34 269.10,230.89 270.10,231.45 271.10,232.02 272.10,232.59 273.10,233.18 274.10,233.77 275.10,234.36 276.10,234.96 277.10,235.57 278.10,236.19 279.10,236.82 280.10,237.46 281.10,238.11 282.10,238.77 283.10,239.44 284.10,240.13 285.10,240.83 286.10,241.55 287.10,242.29 288.10,243.04 289.10,243.81 290.10,244.60 291.10,245.41 292.10,246.24 293.10,247.09 294.10,247.97 295.10,248.87 296.10,249.79 297.10,250.74 298.10,251.71 299.10,252.70 299.64,253.25" stroke="#2a2aff" stroke-width="1.0" fill="none"/>
<path d="M41.25 4.25 H333.85 V253.25 H41.25 Z M41.25 253.25 v-4.00 M41.25 4.25 v4.00 M51.00 253.25 v-2.40 M51.00 4.25 v2.40 M60.76 253.25 v-2.40 M60.76 4.25 v2.40 M70.51 253.25 v-2.40 M70.51 4.25 v2.40 M80.26 253.25 v-2.40 M80.26 4.25 v2.40 M90.02 253.25 v-4.00 M90.02 4.25 v4.00 M99.77 253.25 v-2.40 M99.77 4.25 v2.40 M109.52 253.25 v-2.40 M109.52 4.25 v2.40 M119.28 253.25 v-2.40 M119.28 4.25 v2.40 M129.03 253.25 v-2.40 M129.03 4.25 v2.40 M138.78 253.25 v-4.00 M138.78 4.25 v4.00 M148.54 253.25 v-2.40 M148.54 4.25 v2.40 M158.29 253.25 v-2.40 M158.29 4.25 v2.40 M168.04 253.25 v-2.40 M168.04 4.25 v2.40 M177.80 253.25 v-2.40 M177.80 4.25 v2.40 M187.55 253.25 v-4.00 M187.55 4.25 v4.00 M197.30 253.25 v-2.40 M197.30 4.25 v2.40 M207.06 253.25 v-2.40 M207.06 4.25 v2.40 M216.81 253.25 v-2.40 M216.81 4.25 v2.40 M226.56 253.25 v-2.40 M226.56 4.25 v2.40 M236.32 253.25 v-4.00 M236.32 4.25 v4.00 M246.07 253.25 v-2.40 M246.07 4.25 v2.40 M255.82 253.25 v-2.40 M255.82 4.25 v2.40 M265.58 253.25 v-2.40 M265.58 4.25 v2.40 M275.33 253.25 v-2.40 M275.33 4.25 v2.40 M285.08 253.25 v-4.00 M285.08 4.25 v4.00 M294.84 253.25 v-2.40 M294.84 4.25 v2.40 M304.59 253.25 v-2.40 M304.59 4.25 v2.40 M314.34 253.25 v-2.40 M314.34 4.25 v2.40 M324.10 253.25 v-2.40 M324.10 4.25 v2.40 M333.85 253.25 v-4.00 M333.85 4.25 v4.00 M41.25 253.25 h3.80 M333.85 253.25 h-3.80 M41.25 232.98 h1.50 M333.85 232.98 h-1.50 M41.25 221.12 h1.50 M333.85 221.12 h-1.50 M41.25 212.71 h1.50 M333.85 212.71 h-1.50 M41.25 206.19 h1.50 M333.85 206.19 h-1.50 M41.25 200.85 h1.50 M333.85 200.85 h-1.50 M41.25 196.35 h1.50 M333.85 196.35 h-1.50 M41.25 192.44 h1.50 M333.85 192.44 h-1.50 M41.25 189.00 h1.50 M333.85 189.00 h-1.50 M41.25 185.92 h3.80 M333.85 185.92 h-3.80 M41.25 165.65 h1.50 M333.85 165.65 h-1.50 M41.25 153.79 h1.50 M333.85 153.79 h-1.50 M41.25 145.38 h1.50 M333.85 145.38 h-1.50 M41.25 138.85 h1.50 M333.85 138.85 h-1.50 M41.25 133.52 h1.50 M333.85 133.52 h-1.50 M41.25 129.01 h1.50 M333.85 129.01 h-1.50 M41.25 125.11 h1.50 M333.85 125.11 h-1.50 M41.25 121.66 h1.50 M333.85 121.66 h-1.50 M41.25 118.58 h3.80 M333.85 118.58 h-3.80 M41.25 98.31 h1.50 M333.85 98.31 h-1.50 M41.25 86.46 h1.50 M333.85 86.46 h-1.50 M41.25 78.04 h1.50 M333.85 78.04 h-1.50 M41.25 71.52 h1.50 M333.85 71.52 h-1.50 M41.25 66.19 h1.50 M333.85 66.19 h-1.50 M41.25 61.68 h1.50 M333.85 61.68 h-1.50 M41.25 57.78 h1.50 M333.85 57.78 h-1.50 M41.25 54.33 h1.50 M333.85 54.33 h-1.50 M41.25 51.25 h3.80 M333.85 51.25 h-3.80 M41.25 30.98 h1.50 M333.85 30.98 h-1.50 M41.25 19.12 h1.50 M333.85 19.12 h-1.50 M41.25 10.71 h1.50 M333.85 10.71 h-1.50" stroke="#000" stroke-width="0.42" fill="none"/>
<text x="41.35" y="262.1" font-size="8" text-anchor="middle">200</text>
<text x="90.12" y="262.1" font-size="8" text-anchor="middle">250</text>
<text x="138.88" y="262.1" font-size="8" text-anchor="middle">300</text>
<text x="187.65" y="262.1" font-size="8" text-anchor="middle">350</text>
<text x="236.42" y="262.1" font-size="8" text-anchor="middle">400</text>
<text x="285.18" y="262.1" font-size="8" text-anchor="middle">450</text>
<text x="333.95" y="262.1" font-size="8" text-anchor="middle">500</text>
<text x="38.1" y="52.85" font-size="8" text-anchor="end">10</text>
<text x="38.1" y="120.18" font-size="8" text-anchor="end">1</text>
<text x="38.1" y="187.52" font-size="8" text-anchor="end">0.1</text>
<text x="38.1" y="254.85" font-size="8" text-anchor="end">0.01</text>
<line x1="60" x2="110" y1="16.30" y2="16.30" stroke="#ff8000" stroke-width="1.5"/>
<line x1="60" x2="110" y1="34.15" y2="34.15" stroke="#00ff00" stroke-width="1.5"/>
<line x1="60" x2="110" y1="51.45" y2="51.45" stroke="#0000ff" stroke-width="1.5"/>
<text y="19.00" fill="#ff8000" font-style="italic" font-size="11.5"><tspan x="124.80" y="19.00" font-size="11.5">e</tspan><tspan x="129.30" y="21.10" font-size="8.5">i</tspan><tspan x="132.20" y="14.20" font-size="8" font-style="normal">+</tspan><tspan x="137.50" y="19.00" font-size="11.5">e</tspan><tspan x="142.00" y="21.10" font-size="8.5">i</tspan><tspan x="145.60" y="14.20" font-size="8" font-style="normal">&#8722;</tspan><tspan x="151.20" y="19.00" font-size="11.5">e</tspan><tspan x="156.60" y="13.80" font-size="8" font-style="normal">&#177;</tspan><tspan x="162.00" y="19.00" font-size="11.5">e</tspan><tspan x="167.40" y="13.80" font-size="8" font-style="normal">&#177;</tspan></text>
<text y="36.00" fill="#00ff00" font-style="italic" font-size="11.5"><tspan x="123.90" y="36.00" font-size="11.5">e</tspan><tspan x="128.40" y="38.10" font-size="8.5">i</tspan><tspan x="131.30" y="31.20" font-size="8" font-style="normal">+</tspan><tspan x="136.60" y="36.00" font-size="11.5">e</tspan><tspan x="141.10" y="38.10" font-size="8.5">i</tspan><tspan x="144.70" y="31.20" font-size="8" font-style="normal">&#8722;</tspan><tspan x="150.30" y="36.00" font-size="11.5">e</tspan><tspan x="155.70" y="30.80" font-size="8" font-style="normal">&#177;</tspan><tspan x="161.10" y="36.00" font-size="13">&#956;</tspan><tspan x="168.10" y="32.30" font-size="8" font-style="normal">&#177;</tspan></text>
<text y="53.40" fill="#0000ff" font-style="italic" font-size="11.5"><tspan x="122.70" y="53.40" font-size="11.5">e</tspan><tspan x="127.20" y="55.50" font-size="8.5">i</tspan><tspan x="130.10" y="48.60" font-size="8" font-style="normal">+</tspan><tspan x="135.40" y="53.40" font-size="11.5">e</tspan><tspan x="139.90" y="55.50" font-size="8.5">i</tspan><tspan x="143.50" y="48.60" font-size="8" font-style="normal">&#8722;</tspan><tspan x="149.10" y="53.40" font-size="13">&#956;</tspan><tspan x="156.10" y="49.70" font-size="8" font-style="normal">&#177;</tspan><tspan x="161.90" y="53.40" font-size="13">&#956;</tspan><tspan x="168.90" y="49.70" font-size="8" font-style="normal">&#177;</tspan></text>
<text x="285.5" y="19.6" font-size="11.5" text-anchor="middle">7 TeV LHC</text>
<text font-size="11" y="37.90"><tspan x="239.4">pp</tspan><tspan x="251.3" y="37.90" font-size="12.5">&#8594;</tspan><tspan x="265.50" y="37.90" font-style="italic" font-size="11.5">e</tspan><tspan x="270.90" y="40.90" font-style="italic" font-size="8">i</tspan><tspan x="273.30" y="33.70" font-size="8">+</tspan><tspan x="278.70" y="37.90" font-style="italic" font-size="11.5">e</tspan><tspan x="284.10" y="40.90" font-style="italic" font-size="8">i</tspan><tspan x="286.90" y="33.70" font-size="8">&#8722;</tspan><tspan x="292.10" y="37.90" font-style="italic" font-size="11.5">e</tspan><tspan x="297.80" y="40.90" font-style="italic" font-size="8">j</tspan><tspan x="301.60" y="33.70" font-size="8">&#177;</tspan><tspan x="306.80" y="37.90" font-style="italic" font-size="11.5">e</tspan><tspan x="311.60" y="40.90" font-style="italic" font-size="8">k</tspan><tspan x="315.80" y="33.70" font-size="8">&#177;</tspan><tspan x="321.4" y="37.90">4j</tspan></text>
<text font-size="11.5" y="59.5"><tspan x="252.9" font-style="italic">M</tspan><tspan x="262.5" y="61.7" font-size="7.5">Z</tspan><tspan x="267.2" y="62.7" font-size="5.4">BL</tspan><tspan x="278.4" y="59.5">=</tspan><tspan x="287.4" y="59.5">1 TeV</tspan></text>
<text x="285.0" y="80.0" font-size="11.5" text-anchor="middle">Wino LSP, IH</text>
<text font-size="12.8" y="279.9"><tspan x="160.9" font-style="italic">m</tspan><tspan x="170.7" y="283.4" font-size="9.2" font-style="italic">e</tspan><tspan x="175.4" y="284.7" font-size="6.8" font-style="italic">L</tspan><tspan x="180.0" y="279.9">[GeV]</tspan></text>
<path d="M172.5 277.4 q0.6 -0.9 1.25 -0.3 t1.25 -0.4" stroke="#000" stroke-width="0.55" fill="none"/>
<text font-size="13.35" transform="translate(13.6,209.0) rotate(-90)"><tspan>Number of Events per 10 fb</tspan><tspan font-size="9.3" dy="-5.4" dx="0.6">&#8722;1</tspan></text>
</svg></body></html>
